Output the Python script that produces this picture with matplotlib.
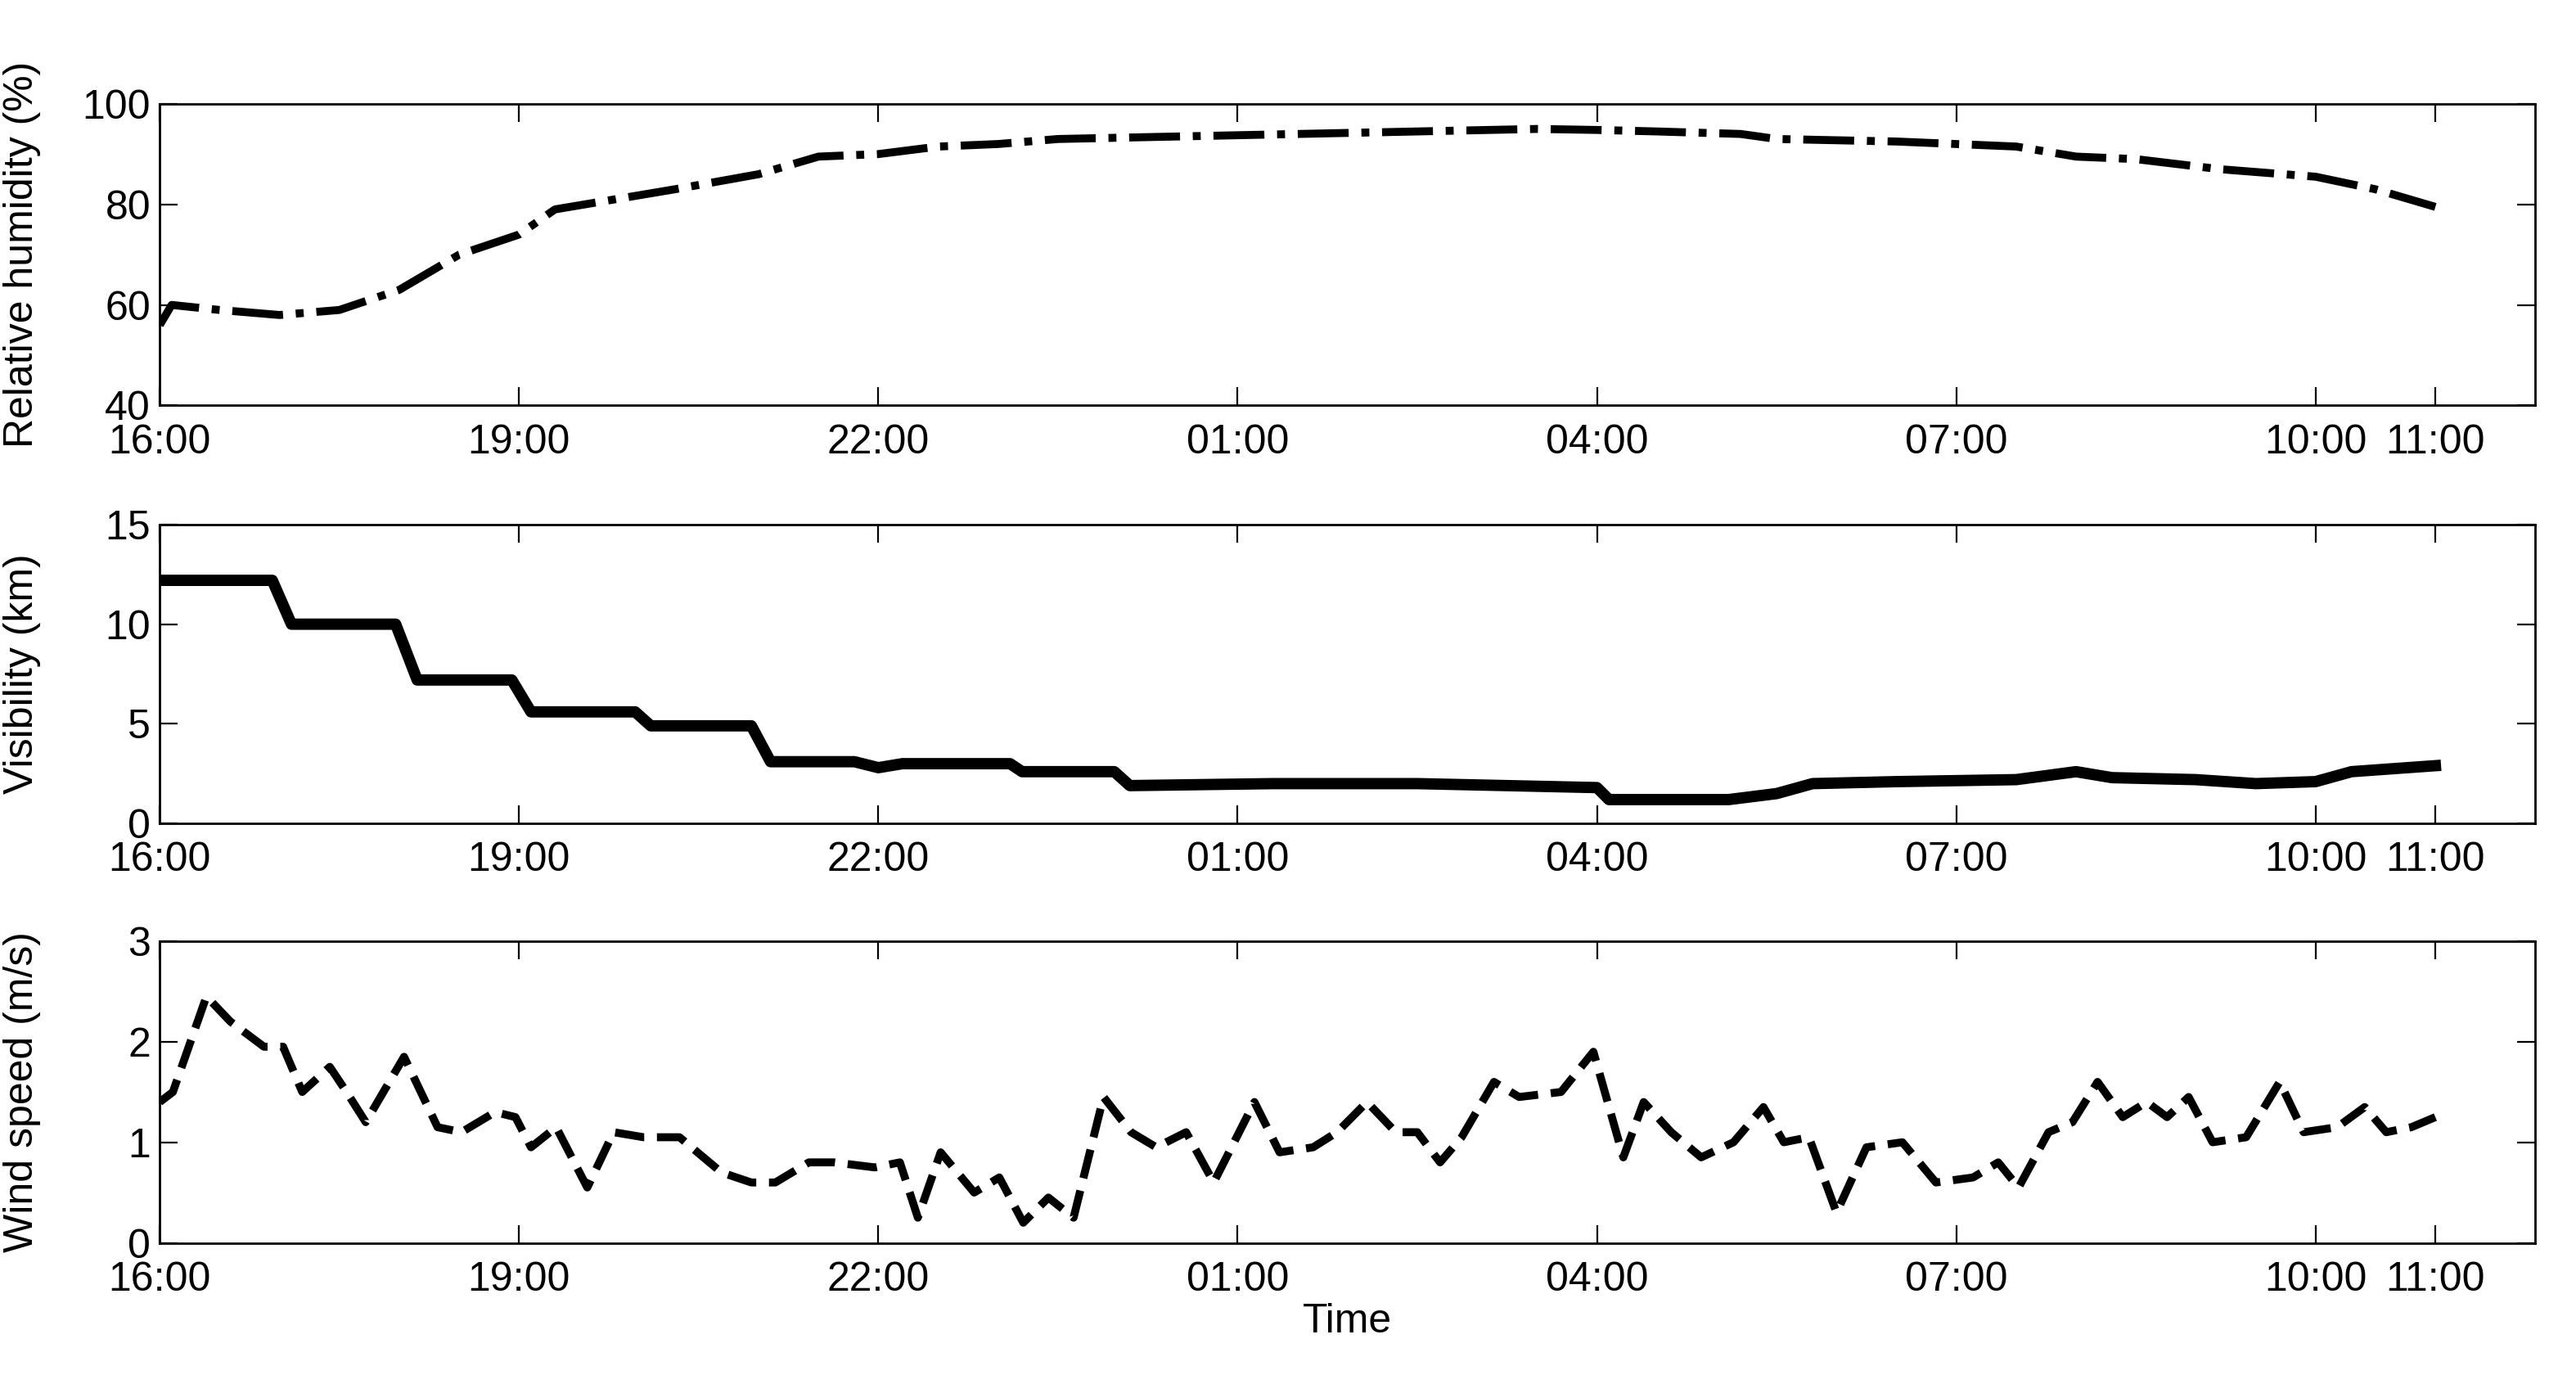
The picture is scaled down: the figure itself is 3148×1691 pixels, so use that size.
import matplotlib
matplotlib.use("Agg")
import matplotlib.pyplot as plt

plt.rcParams['font.family'] = ['Liberation Sans', 'DejaVu Sans']

# hours after 16:00
rh_t = [0, 0.1, 0.5, 1, 1.5, 2, 2.5, 3, 3.3, 3.8, 4.3, 5, 5.5, 6, 6.5, 7, 7.5, 8.5, 9.5, 10.5,
        11.5, 12, 12.5, 13.2, 13.5, 14.5, 15.5, 16, 16.5, 17.2, 18, 18.5, 19]
rh_v = [56, 60, 59, 58, 59, 63, 70, 74, 79, 81, 83, 86, 89.5, 90, 91.5, 92, 93, 93.5, 94, 94.5,
        95, 94.8, 94.5, 94, 93, 92.5, 91.5, 89.5, 89, 87, 85.5, 83, 79.5]

vis_t = [0, 0.94, 1.1, 1.97, 2.15, 2.94, 3.1, 3.97, 4.1, 4.94, 5.1, 5.8, 6.0, 6.2, 7.1, 7.2, 7.97,
         8.1, 9.3, 10.5, 12.0, 12.1, 13.1, 13.5, 13.8, 14.5, 15.5, 16.0, 16.3, 17.0, 17.5, 18.0,
         18.3, 19.0]
vis_v = [12.2, 12.2, 10.0, 10.0, 7.2, 7.2, 5.6, 5.6, 4.9, 4.9, 3.1, 3.1, 2.8, 3.0, 3.0, 2.6, 2.6,
         1.9, 2.0, 2.0, 1.8, 1.2, 1.2, 1.5, 2.0, 2.1, 2.2, 2.6, 2.3, 2.2, 2.0, 2.1, 2.6, 2.9]

ws_t = [0, 0.11, 0.39, 0.59, 0.87, 1.03, 1.19, 1.42, 1.56, 1.72, 2.04, 2.32, 2.52, 2.8, 2.97, 3.1,
        3.31, 3.57, 3.79, 4.04, 4.34, 4.69, 4.94, 5.14, 5.42, 5.63, 5.97, 6.18, 6.33, 6.52, 6.8,
        7.01, 7.21, 7.42, 7.63, 7.88, 8.11, 8.32, 8.57, 8.8, 9.14, 9.35, 9.63, 9.83, 10.08, 10.32,
        10.5, 10.69, 10.87, 11.14, 11.35, 11.7, 11.97, 12.22, 12.39, 12.62, 12.87, 13.14, 13.39,
        13.56, 13.77, 14.0, 14.25, 14.55, 14.83, 15.14, 15.35, 15.52, 15.77, 15.97, 16.18, 16.39,
        16.59, 16.76, 16.94, 17.14, 17.42, 17.7, 17.9, 18.18, 18.41, 18.59, 18.8, 19.0]
ws_v = [1.4, 1.5, 2.45, 2.2, 1.95, 1.95, 1.5, 1.75, 1.5, 1.2, 1.85, 1.15, 1.1, 1.3, 1.25, 0.95,
        1.15, 0.55, 1.1, 1.05, 1.05, 0.7, 0.6, 0.6, 0.8, 0.8, 0.75, 0.8, 0.25, 0.9, 0.5, 0.65, 0.2,
        0.45, 0.25, 1.45, 1.1, 0.95, 1.1, 0.6, 1.4, 0.9, 0.95, 1.1, 1.4, 1.1, 1.1, 0.8, 1.05, 1.6,
        1.45, 1.5, 1.9, 0.85, 1.4, 1.1, 0.85, 1.0, 1.35, 1.0, 1.05, 0.3, 0.95, 1.0, 0.6, 0.65, 0.8,
        0.55, 1.1, 1.2, 1.6, 1.25, 1.4, 1.25, 1.45, 1.0, 1.05, 1.6, 1.1, 1.15, 1.35, 1.1, 1.15, 1.25]

tick_pos = [0, 3, 6, 9, 12, 15, 18, 19]
tick_lab = ['16:00', '19:00', '22:00', '01:00', '04:00', '07:00', '10:00', '11:00']

fig = plt.figure(figsize=(15.74, 8.455), dpi=200)
boxes = [[0.062, 0.707, 0.922, 0.218], [0.062, 0.405, 0.922, 0.216], [0.062, 0.102, 0.922, 0.218]]
axs = [fig.add_axes(b) for b in boxes]

axs[0].plot(rh_t, rh_v, color='black', lw=3.5, ls='-.')
axs[0].set_ylim(40, 100); axs[0].set_yticks([40, 60, 80, 100])
axs[0].set_ylabel('Relative humidity (%)')

axs[1].plot(vis_t, vis_v, color='black', lw=5)
axs[1].set_ylim(0, 15); axs[1].set_yticks([0, 5, 10, 15])
axs[1].set_ylabel('Visibility (km)')

axs[2].plot(ws_t, ws_v, color='black', lw=3.5, ls='--')
axs[2].set_ylim(0, 3); axs[2].set_yticks([0, 1, 2, 3])
axs[2].set_ylabel('Wind speed (m/s)')
axs[2].set_xlabel('Time', labelpad=2)

for ax in axs:
    ax.set_xlim(0, 19.83)
    ax.set_xticks(tick_pos)
    ax.set_xticklabels(tick_lab)
    ax.tick_params(direction='in', labelsize=18, length=8, top=True, right=True)
    ax.tick_params(axis='x', pad=8)
    ax.tick_params(axis='y', pad=4)
    ax.yaxis.label.set_size(18)
    ax.xaxis.label.set_size(18)
    ax.yaxis.set_label_coords(-0.05, 0.5)
    for s in ax.spines.values():
        s.set_linewidth(1)

fig.savefig('out.png')
